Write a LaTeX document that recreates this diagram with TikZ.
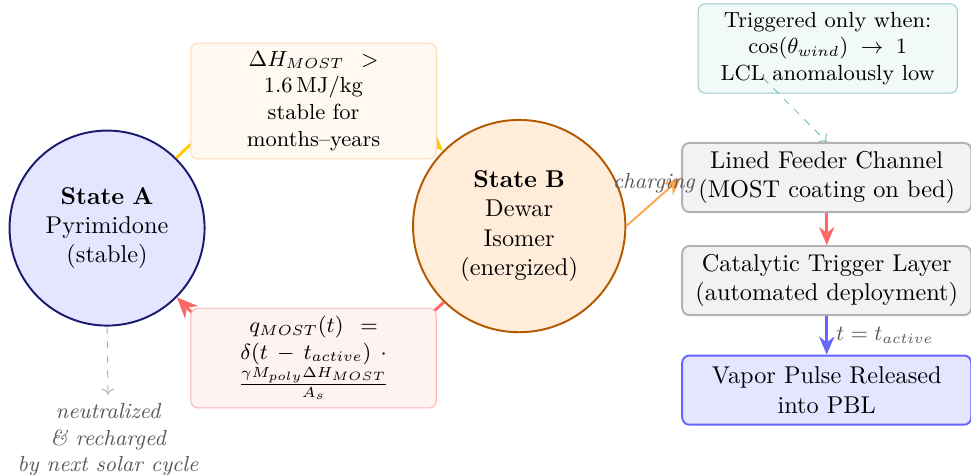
\documentclass[tikz,border=0pt]{standalone}
\usepackage{amsmath}
\usepackage{xcolor}
\usepackage{tikz}
\usetikzlibrary{arrows.meta,positioning}
\definecolor{StateNavy}{RGB}{26,26,110}
\definecolor{StateBrown}{RGB}{179,89,0}
\definecolor{CycGold}{RGB}{255,204,0}
\definecolor{LabelGray}{RGB}{90,90,90}

\begin{document}
\begin{tikzpicture}[
    x=1cm,y=1cm,
    state/.style={circle, draw, thick, align=center, text width=2cm, inner sep=1pt},
    stateA/.style={state, draw=StateNavy, fill=blue!10, minimum size=2.82cm},
    stateB/.style={state, draw=StateBrown, fill=orange!15, minimum size=3.07cm},
    note/.style={rounded corners=3pt, minimum width=3.55cm, text width=2.3cm, align=center, font=\small},
    gainnote/.style={note, draw=orange!30, fill=orange!5},
    lossnote/.style={note, draw=red!30, fill=red!5},
    trignote/.style={rounded corners=3pt, draw=teal!40, fill=teal!5, minimum width=3.75cm, align=center, font=\small},
    stepbox/.style={rounded corners=3pt, thick, draw=gray!60, fill=gray!10, minimum width=4.18cm, minimum height=1cm, align=center},
    pulsebox/.style={stepbox, draw=blue!60, fill=blue!10},
    loopedge/.style={-{Stealth[length=3mm,width=2.6mm]}, very thick},
    flow/.style={-{Stealth[length=2.6mm,width=2.2mm]}, very thick},
    faint/.style={->, dashed}
  ]
    \useasboundingbox (0,0) rectangle (14.04,-6.856);
    \node[stateA] (A) at (1.548,-3.298) {\textbf{State A}\\Pyrimidone\\(stable)};
    \node[stateB] (B) at (7.507,-3.269) {\textbf{State B}\\Dewar Isomer\\(energized)};
    \draw[loopedge, CycGold] (A) to[bend left=45] (B);
    \draw[loopedge, red!60] (B) to[bend left=45] (A);
    \node[gainnote] (gain) at (4.534,-1.461) {$\Delta H_{MOST}\; > 1.6\,\mathrm{MJ/kg}$ stable for months--years};
    \node[lossnote] (loss) at (4.534,-5.178) {$q_{MOST}(t)\; = \delta(t \,-\, t_{active})\, \cdot \frac{\gamma M_{poly} \Delta H_{MOST}}{A_s}$};
    \node[font=\small\itshape, text=LabelGray, align=center] (neut) at (1.562,-6.36) {neutralized\\\& recharged\\by next solar cycle};
    \draw[faint, gray!60] (A.south) -- (neut.north);
    % right column
    \node[trignote] (trig) at (11.968,-0.701) {Triggered only when:\\$\cos(\theta_{wind}) \;\to\; 1$\\LCL anomalously low};
    \foreach \y/\name/\lab in {-2.567/feed/{Lined Feeder Channel\\(MOST coating on bed)},-4.057/cat/{Catalytic Trigger Layer\\(automated deployment)}} {
      \node[stepbox] (\name) at (11.954,\y) {\lab};
    }
    \node[pulsebox] (pulse) at (11.954,-5.641) {Vapor Pulse Released\\into PBL};
    \coordinate (trigtail) at (11.035,-1.128);
    \draw[faint, teal!50] (trigtail) -- (feed.north);
    \draw[flow, orange!70, thick] (B.east) -- (feed.west) node[midway, above, font=\small\itshape, text=LabelGray] {charging};
    \draw[flow, red!60] (feed) -- (cat);
    \draw[flow, blue!60] (cat) -- (pulse) node[midway, right, font=\small, text=LabelGray] {$t = t_{active}$};
  \end{tikzpicture}
\end{document}
